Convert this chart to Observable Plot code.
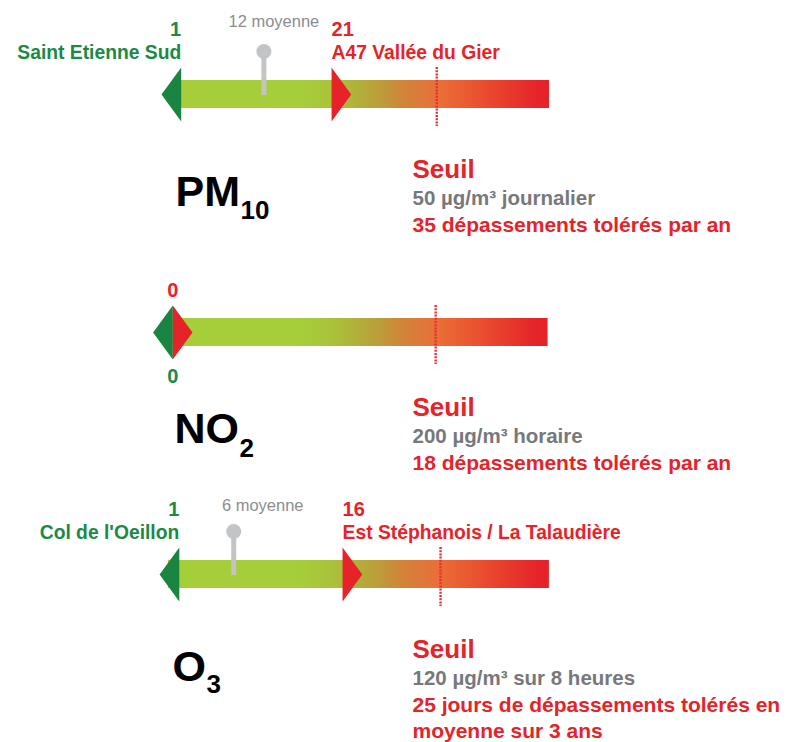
<!DOCTYPE html>
<html>
<head>
<meta charset="utf-8">
<script src="https://cdn.jsdelivr.net/npm/d3@7"></script>
<script src="https://cdn.jsdelivr.net/npm/@observablehq/plot@0.6"></script>
<style>
  html, body { margin: 0; padding: 0; background: #fff; overflow: hidden; }
  #chart svg { display: block; }
</style>
</head>
<body>
<div id="chart"></div>
<script>
// ---- Data ----
const pollutants = ["PM10", "NO2", "O3"];
const nameMain = ["PM", "NO", "O"];
const nameSub = ["10", "2", "3"];
const minValues = [1, 0, 1];
const maxValues = [21, 0, 16];
const avgValues = [12, null, 6];
const thresholds = [35, 18, 25];
const scaleMaxValues = [50, 25.7, 35];
const minStations = ["Saint Etienne Sud", "", "Col de l'Oeillon"];
const maxStations = ["A47 Vallée du Gier", "", "Est Stéphanois / La Talaudière"];
const seuilTitle = ["Seuil", "Seuil", "Seuil"];
const seuilValue = ["50 µg/m³ journalier", "200 µg/m³ horaire", "120 µg/m³ sur 8 heures"];
const seuilRule = [
  ["35 dépassements tolérés par an"],
  ["18 dépassements tolérés par an"],
  ["25 jours de dépassements tolérés en", "moyenne sur 3 ans"]
];

// ---- Layout / style ----
const layout = [
  {height: 240, cy: 94, xRange: [173.2, 549], avgDx: 10, avgDy: -68, nameX: 175, subX: 240, nameDy: 111, subDy: 124},
  {height: 240, cy: 92, xRange: [172.3, 547.6], avgDx: 0, avgDy: -68, nameX: 174, subX: 239, nameDy: 110, subDy: 124},
  {height: 262, cy: 94, xRange: [167.9, 548.9], avgDx: 29, avgDy: -64, nameX: 172, subX: 206, nameDy: 106, subDy: 118}
];
const GREEN = "#1a8540", GREEN_TXT = "#1b8a45", RED = "#e52329", GREY = "#77787b",
      LIGHTGREY = "#8b8d90", PIN = "#c2c4c6";
const FONT = "'Liberation Sans', Arial, sans-serif";
const gradientStops = [
  [0, "#a6ce39"], [0.34, "#a6ce39"], [0.43, "#aac23a"], [0.50, "#b2ad3a"],
  [0.56, "#bf9a3a"], [0.61, "#d08538"], [0.67, "#e0773a"], [0.71, "#ea6e37"],
  [0.79, "#ea5831"], [0.88, "#e83d2d"], [0.97, "#e5242a"], [1, "#e52329"]
];
const HALF = 27, RATIO = 0.73;
const leftTriangle = {draw(ctx, size) {
  const r = Math.sqrt(size / Math.PI);
  ctx.moveTo(0, -r); ctx.lineTo(0, r); ctx.lineTo(-RATIO * r, 0); ctx.closePath();
}};
const rightTriangle = {draw(ctx, size) {
  const r = Math.sqrt(size / Math.PI);
  ctx.moveTo(0, -r); ctx.lineTo(0, r); ctx.lineTo(RATIO * r, 0); ctx.closePath();
}};

const rows = pollutants.map((name, i) => ({
  name, min: minValues[i], max: maxValues[i], avg: avgValues[i],
  threshold: thresholds[i], scaleMin: 0, scaleMax: scaleMaxValues[i],
  minStation: minStations[i], maxStation: maxStations[i]
}));

const chart = document.getElementById("chart");

rows.forEach((row, i) => {
  const L = layout[i];
  const gid = "grad" + i;
  const data = [row];
  const differ = row.min !== row.max;
  const defs = () => {
    const d = d3.create("svg:defs");
    const g = d.append("linearGradient").attr("id", gid)
      .attr("x1", 0).attr("x2", 1).attr("y1", 0).attr("y2", 0);
    gradientStops.forEach(([o, c]) => g.append("stop").attr("offset", o).attr("stop-color", c));
    return d.node();
  };
  const note = (text, dx, dy, opts) => Plot.text([text], {
    text: d => d, frameAnchor: "top-left", textAnchor: "start", lineAnchor: "bottom",
    dx, dy, fontFamily: FONT, ...opts
  });

  const marks = [
    defs,
    Plot.barX(data, {x1: "scaleMin", x2: "scaleMax", y: "name", fill: `url(#${gid})`}),
    Plot.tickX(data, {x: "threshold", y: "name", stroke: "#e62e36", strokeWidth: 2.4,
      strokeDasharray: "2 1.2", insetTop: -13, insetBottom: -18})
  ];
  if (row.avg != null) {
    marks.push(
      Plot.tickX(data, {x: "avg", y: "name", stroke: PIN, strokeWidth: 5, insetTop: -29, insetBottom: 13}),
      Plot.dot(data, {x: "avg", y: "name", dy: -43, r: 7.5, fill: PIN, stroke: "none"}),
      Plot.text(data, {x: "avg", y: "name", text: d => `${d.avg} moyenne`, dx: L.avgDx, dy: L.avgDy,
        lineAnchor: "bottom", fill: LIGHTGREY, fontSize: 16.5, fontFamily: FONT})
    );
  }
  marks.push(
    Plot.dot(data, {x: "min", y: "name", symbol: leftTriangle, r: HALF, fill: GREEN, stroke: "none"}),
    Plot.dot(data, {x: "max", y: "name", symbol: rightTriangle, r: HALF, fill: RED, stroke: "none"})
  );
  const valueStyle = {fontSize: 20, fontWeight: "bold", fontFamily: FONT, lineAnchor: "bottom"};
  const stationStyle = {fontSize: 19.3, fontWeight: "bold", fontFamily: FONT, lineAnchor: "bottom"};
  if (differ) {
    marks.push(
      Plot.text(data, {x: "min", y: "name", text: d => String(d.min), textAnchor: "end", dy: -59, fill: GREEN_TXT, ...valueStyle}),
      Plot.text(data, {x: "min", y: "name", text: "minStation", textAnchor: "end", dy: -36, fill: GREEN_TXT, ...stationStyle}),
      Plot.text(data, {x: "max", y: "name", text: d => String(d.max), textAnchor: "start", dy: -59, fill: RED, ...valueStyle}),
      Plot.text(data, {x: "max", y: "name", text: "maxStation", textAnchor: "start", dy: -36, fill: RED, ...stationStyle})
    );
  } else {
    marks.push(
      Plot.text(data, {x: "max", y: "name", text: d => String(d.max), textAnchor: "middle", dy: -36, fill: RED, ...valueStyle}),
      Plot.text(data, {x: "min", y: "name", text: d => String(d.min), textAnchor: "middle", dy: 50, fill: GREEN_TXT, ...valueStyle})
    );
  }
  // Pollutant name and threshold text
  marks.push(
    note(nameMain[i], L.nameX, L.cy + L.nameDy, {fontSize: 43, fontWeight: "bold", fill: "#000"}),
    note(nameSub[i], L.subX, L.cy + L.subDy, {fontSize: 26, fontWeight: "bold", fill: "#000"}),
    note(seuilTitle[i], 412, L.cy + 83, {fontSize: 26, fontWeight: "bold", fill: RED}),
    note(seuilValue[i], 412, L.cy + 110, {fontSize: 20.5, fontWeight: "bold", fill: GREY})
  );
  seuilRule[i].forEach((line, k) => {
    marks.push(note(line, 412, L.cy + 137 + k * 26, {fontSize: 21, fontWeight: "bold", fill: RED}));
  });

  const plot = Plot.plot({
    width: 798,
    height: L.height,
    margin: 0,
    style: {fontFamily: FONT, background: "#fff", overflow: "visible"},
    x: {domain: [row.scaleMin, row.scaleMax], range: L.xRange, axis: null},
    y: {type: "band", domain: [row.name], range: [L.cy - 14, L.cy + 14], padding: 0, axis: null},
    marks
  });
  chart.appendChild(plot);
});
</script>
</body>
</html>
